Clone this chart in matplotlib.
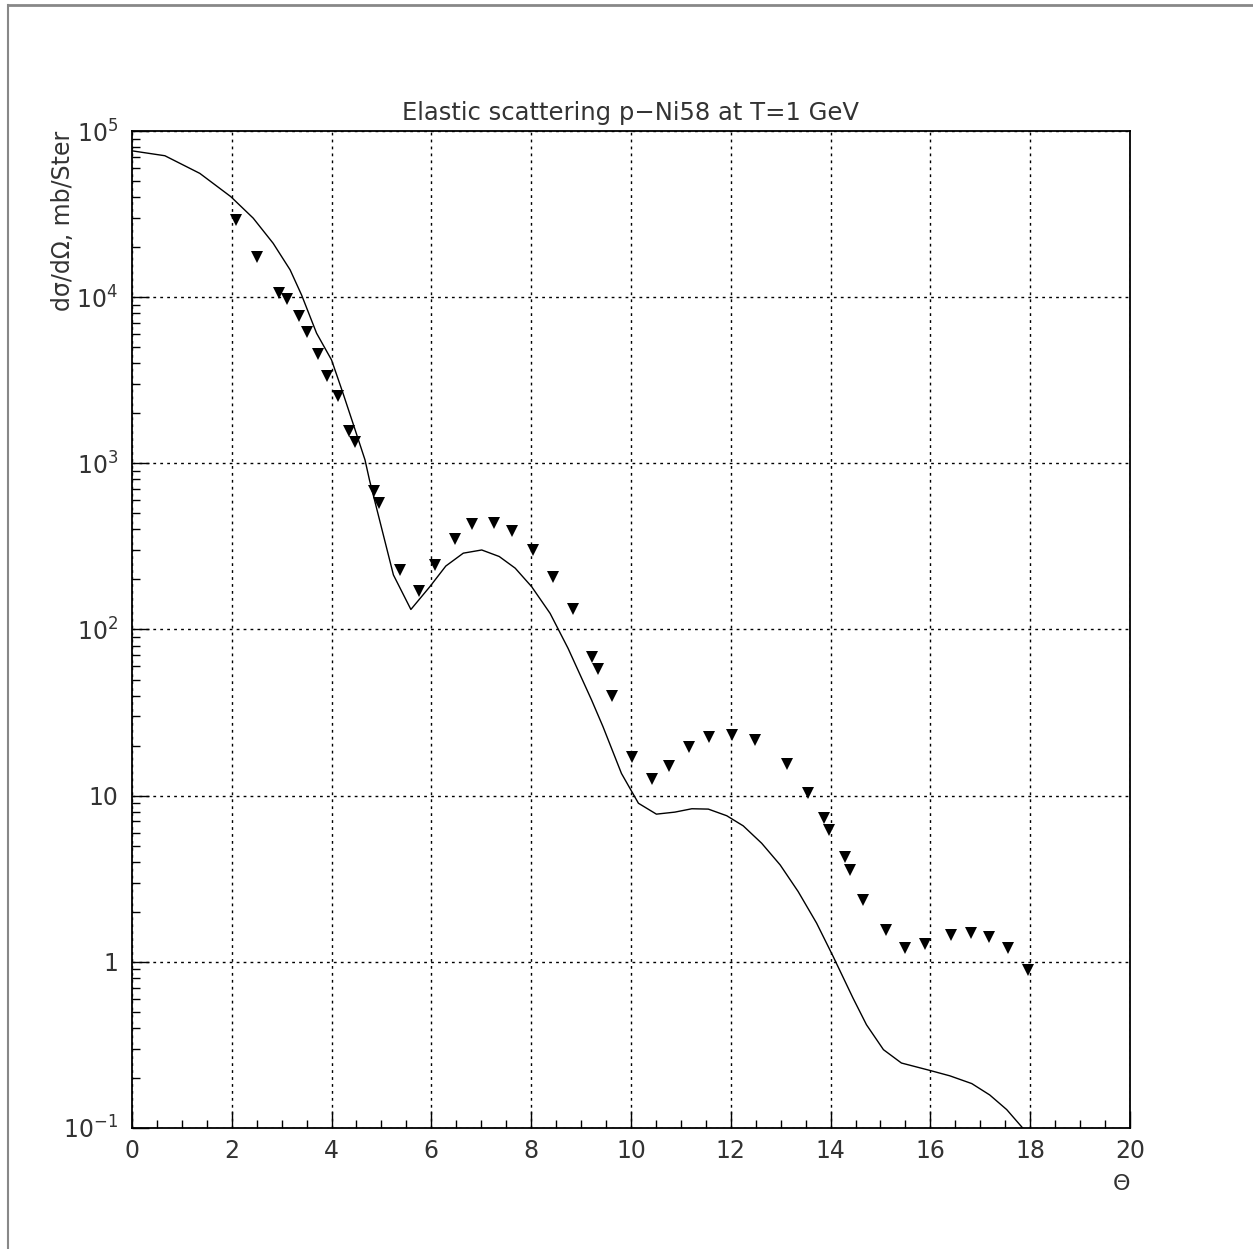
import numpy as np
import matplotlib
matplotlib.use("Agg")
import matplotlib.pyplot as plt
from matplotlib.lines import Line2D
from matplotlib.ticker import FixedLocator, MultipleLocator, NullFormatter

# measured cross section, p-Ni58 at 1 GeV
theta_exp = [2.08, 2.50, 2.95, 3.10, 3.35, 3.51, 3.73, 3.91, 4.13, 4.35, 4.47,
             4.85, 4.95, 5.37, 5.75, 6.07, 6.47, 6.81, 7.25, 7.62, 8.04, 8.44,
             8.84, 9.22, 9.34, 9.62, 10.02, 10.42, 10.76, 11.16, 11.56, 12.02,
             12.48, 13.13, 13.55, 13.87, 13.97, 14.29, 14.39, 14.65, 15.11,
             15.49, 15.89, 16.41, 16.81, 17.17, 17.55, 17.96]
sigma_exp = [2.91e4, 1.75e4, 1.06e4, 9.75e3, 7.7e3, 6.2e3, 4.55e3, 3.36e3,
             2.55e3, 1.57e3, 1.35e3, 682, 578, 229, 171, 245, 351, 432, 438,
             392, 301, 207, 133, 68, 58, 40, 17.1, 12.6, 15.1, 19.7, 22.6,
             23.2, 21.7, 15.5, 10.4, 7.35, 6.2, 4.28, 3.58, 2.36, 1.56, 1.21,
             1.28, 1.45, 1.50, 1.42, 1.21, 0.895]

# calculated curve
theta_calc = [0.0, 0.66, 1.36, 1.98, 2.43, 2.83, 3.17, 3.40, 3.70, 4.00, 4.23,
              4.43, 4.67, 4.76, 5.24, 5.59, 5.97, 6.29, 6.64, 7.01, 7.36, 7.68,
              8.01, 8.38, 8.74, 9.21, 9.44, 9.81, 10.15, 10.51, 10.88, 11.22,
              11.55, 11.92, 12.25, 12.62, 12.99, 13.35, 13.72, 14.05, 14.45,
              14.72, 15.06, 15.42, 15.99, 16.39, 16.83, 17.19, 17.53, 17.85,
              18.20]
sigma_calc = [7.6e4, 7.1e4, 5.56e4, 4.03e4, 2.99e4, 2.11e4, 1.46e4, 1.03e4,
              6.07e3, 4.19e3, 2.64e3, 1.74e3, 1.05e3, 794, 213, 132, 181, 241,
              288, 301, 275, 234, 181, 125, 77, 37.7, 26, 13.6, 9.0, 7.74,
              7.96, 8.34, 8.3, 7.57, 6.58, 5.17, 3.83, 2.65, 1.71, 1.08, 0.605,
              0.418, 0.296, 0.246, 0.222, 0.206, 0.185, 0.158, 0.129, 0.100,
              0.075]

ytick_vals = [1e-1, 1, 10, 1e2, 1e3, 1e4, 1e5]
ytick_labels = ["$10^{-1}$", "1", "10", "$10^{2}$", "$10^{3}$", "$10^{4}$", "$10^{5}$"]

plt.rcParams['font.family'] = ['DejaVu Sans']
plt.rcParams['mathtext.fontset'] = 'dejavusans'

fig = plt.figure(figsize=(12.53, 12.49), dpi=100)
ax = fig.add_axes([0.1053, 0.0969, 0.7965, 0.7982])

ax.plot(theta_calc, sigma_calc, color='black', lw=1.0)
ax.plot(theta_exp, sigma_exp, linestyle='none', marker='v', ms=8.5,
        color='black', markeredgewidth=0)

ax.set_yscale('log')
ax.set_xlim(0, 20)
ax.set_ylim(1e-1, 1e5)

ax.xaxis.set_major_locator(MultipleLocator(2))
ax.xaxis.set_minor_locator(MultipleLocator(0.5))
ax.yaxis.set_major_locator(FixedLocator(ytick_vals))
ax.set_yticklabels(ytick_labels)
ax.yaxis.set_minor_locator(FixedLocator(
    [m * 10.0 ** e for e in range(-1, 5) for m in range(2, 10)]))
ax.yaxis.set_minor_formatter(NullFormatter())

ax.tick_params(which='major', direction='in', length=12, width=1.0,
               labelsize=17, pad=8, colors='black', labelcolor='#333333')
ax.tick_params(which='minor', direction='in', length=6, width=1.0)
ax.tick_params(axis='y', which='major', pad=10)

ax.grid(True, which='major', linestyle=(0, (2, 3)), color='black', lw=1.0)

for sp in ax.spines.values():
    sp.set_linewidth(1.3)

ax.set_title("Elastic scattering p\u2212Ni58 at T=1 GeV", fontsize=17.5,
             color='#333333', pad=8)
ax.set_ylabel("d\u03c3/d\u03a9, mb/Ster", fontsize=17, color='#333333',
              loc='top')
ax.yaxis.set_label_coords(-0.057, 1.0)
ax.set_xlabel("\u0398", fontsize=16, color='#333333', loc='right', labelpad=8)

# outer page frame
fig.add_artist(Line2D([0.0064, 1.0], [0.996, 0.996], color='#888888', lw=2,
                      transform=fig.transFigure))
fig.add_artist(Line2D([0.0064, 0.0064], [0.0, 0.996], color='#888888', lw=1.5,
                      transform=fig.transFigure))

fig.savefig("out.png", dpi=100)
